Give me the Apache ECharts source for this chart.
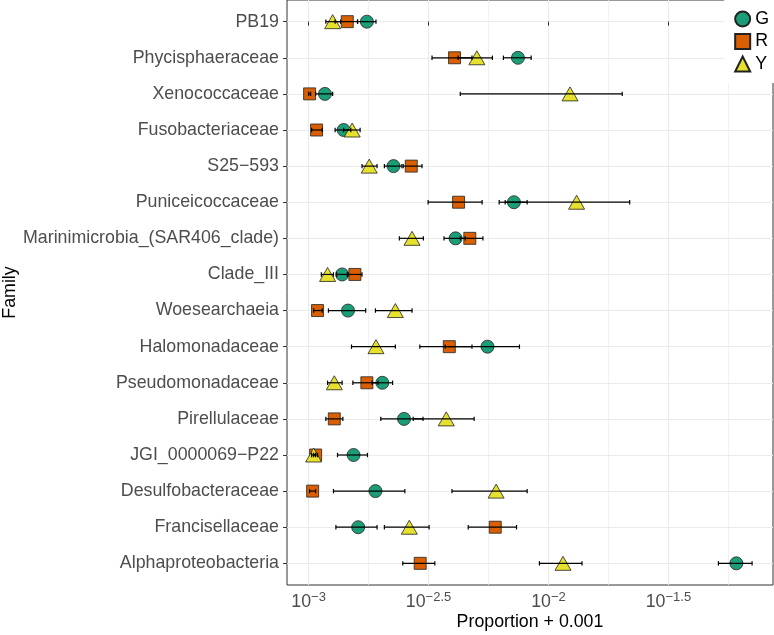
<!DOCTYPE html>
<html>
<head>
<meta charset="utf-8">
<script src="https://cdn.jsdelivr.net/npm/echarts@6/dist/echarts.min.js"></script>
<style>
  html, body { margin: 0; padding: 0; background: #fff; }
  #chart { width: 774px; height: 635px; }
</style>
</head>
<body>
<div id="chart"></div>
<script>
// 科目（从上到下）
var families = ['PB19', 'Phycisphaeraceae', 'Xenococcaceae', 'Fusobacteriaceae', 'S25\u2212593',
  'Puniceicoccaceae', 'Marinimicrobia_(SAR406_clade)', 'Clade_III', 'Woesearchaeia', 'Halomonadaceae',
  'Pseudomonadaceae', 'Pirellulaceae', 'JGI_0000069\u2212P22', 'Desulfobacteraceae', 'Francisellaceae',
  'Alphaproteobacteria'];

// 均值 (Proportion + 0.001)
var gMean = [0.00175, 0.00746, 0.00117, 0.00140, 0.00226, 0.00718, 0.00410, 0.00138, 0.00146, 0.00557,
  0.00203, 0.00250, 0.00154, 0.00190, 0.00161, 0.0607];
var rMean = [0.00145, 0.00406, 0.00101, 0.00108, 0.00268, 0.00422, 0.00470, 0.00156, 0.00109, 0.00386,
  0.00175, 0.00128, 0.00107, 0.00104, 0.00600, 0.00292];
var yMean = [0.00126, 0.00503, 0.0123, 0.00152, 0.00179, 0.0131, 0.00270, 0.00120, 0.00230, 0.00191,
  0.00128, 0.00375, 0.00105, 0.00605, 0.00263, 0.0115];

// 误差线 下限 / 上限
var gLow = [0.00160, 0.00649, 0.00107, 0.00129, 0.00207, 0.00623, 0.00367, 0.00131, 0.00121, 0.00371,
  0.00184, 0.00200, 0.00132, 0.00127, 0.00130, 0.0511];
var gHigh = [0.00191, 0.00847, 0.00126, 0.00150, 0.00245, 0.00815, 0.00450, 0.00145, 0.00173, 0.00757,
  0.00224, 0.00300, 0.00176, 0.00252, 0.00193, 0.0706];
var rLow = [0.00129, 0.00327, 0.00100, 0.00103, 0.00248, 0.00315, 0.00429, 0.00146, 0.00105, 0.00291,
  0.00153, 0.00118, 0.00105, 0.00101, 0.00463, 0.00247];
var rHigh = [0.00160, 0.00480, 0.00102, 0.00114, 0.00297, 0.00529, 0.00533, 0.00167, 0.00114, 0.00480,
  0.00195, 0.00139, 0.00109, 0.00107, 0.00736, 0.00336];
var yLow = [0.00118, 0.00420, 0.00429, 0.00140, 0.00167, 0.00660, 0.00239, 0.00113, 0.00190, 0.00151,
  0.00120, 0.00273, 0.00103, 0.00396, 0.00207, 0.00917];
var yHigh = [0.00136, 0.00584, 0.0203, 0.00164, 0.00193, 0.0218, 0.00301, 0.00127, 0.00270, 0.00230,
  0.00138, 0.00490, 0.00107, 0.00815, 0.00318, 0.0138];

// 刻度
var majorTicks = [0.001, 0.0031623, 0.01, 0.031623];
var minorTicks = [0.0017783, 0.0056234, 0.017783, 0.056234];
var rowIdx = families.map(function (f, i) { return i; });

var FONT = 'Liberation Sans, Arial, Helvetica, sans-serif';
var FS = 17.8;
var X_MIN = 0.000813, X_MAX = 0.0863;
var chart = echarts.init(document.getElementById('chart'));

function points(mean) {
  return mean.map(function (v, i) { return [v, i]; });
}
function bars(lo, hi) {
  return lo.map(function (v, i) { return [v, hi[i], i]; });
}
// 误差线
function renderErr(params, api) {
  var a = api.coord([api.value(0), api.value(2)]);
  var b = api.coord([api.value(1), api.value(2)]);
  var st = { stroke: '#000', lineWidth: 1.2 };
  var c = 2.2;
  return {
    type: 'group',
    children: [
      { type: 'line', shape: { x1: a[0], y1: a[1], x2: b[0], y2: b[1] }, style: st },
      { type: 'line', shape: { x1: a[0], y1: a[1] - c, x2: a[0], y2: a[1] + c }, style: st },
      { type: 'line', shape: { x1: b[0], y1: b[1] - c, x2: b[0], y2: b[1] + c }, style: st }
    ]
  };
}
function errSeries(name, lo, hi) {
  return {
    name: name, type: 'custom', renderItem: renderErr, z: 5, silent: true,
    encode: { x: [0, 1], y: 2 }, data: bars(lo, hi)
  };
}
function ptSeries(name, mean, symbol, size, color) {
  return {
    name: name, type: 'scatter', data: points(mean), symbol: symbol, symbolSize: size, z: 3,
    itemStyle: { color: color, borderColor: '#222', borderWidth: 0.8, opacity: 1 }
  };
}
// 只画网格线的隐藏轴
function gridAxis(ticks, width) {
  return {
    type: 'log', logBase: 10, min: X_MIN, max: X_MAX, position: 'bottom',
    axisLine: { show: false }, axisLabel: { show: false },
    axisTick: { show: false, customValues: ticks },
    splitLine: { show: true, lineStyle: { color: '#ebebeb', width: width } }
  };
}

var option = {
  animation: false,
  textStyle: { fontFamily: FONT },
  grid: {
    left: 287, right: 1, top: 0, bottom: 50, outerBoundsMode: 'none', containLabel: false,
    show: true, borderColor: '#333', borderWidth: 1, backgroundColor: '#fff'
  },
  legend: {
    data: ['G', 'R', 'Y'], orient: 'vertical', right: 0, top: 0,
    backgroundColor: '#fff', padding: [10, 5, 10, 10], itemGap: 4.5,
    itemWidth: 15, itemHeight: 15,
    textStyle: { fontSize: FS, color: '#000', fontFamily: FONT }
  },
  xAxis: [{
    type: 'log', logBase: 10, min: X_MIN, max: X_MAX,
    name: 'Proportion + 0.001', nameLocation: 'middle', nameGap: 28, nameMoveOverlap: false,
    nameTextStyle: { fontSize: FS, color: '#000' },
    axisLine: { show: false },
    axisTick: { customValues: majorTicks, length: 4, lineStyle: { color: '#333' } },
    axisLabel: {
      customValues: majorTicks, margin: 6, color: '#4d4d4d',
      formatter: function (v) {
        var e = Math.round(Math.log10(v) * 2) / 2;
        return '{b|10}{s|' + String(e).replace('-', '\u2212') + '}';
      },
      rich: {
        b: { fontSize: FS, color: '#4d4d4d', fontFamily: FONT, verticalAlign: 'bottom', lineHeight: 20 },
        s: { fontSize: 13, color: '#4d4d4d', fontFamily: FONT, verticalAlign: 'top', lineHeight: 20, padding: [0, 0, 8, 0] }
      }
    },
    splitLine: { show: false }
  }, gridAxis(majorTicks, 1.1), gridAxis(minorTicks, 0.7)],
  yAxis: {
    type: 'value', inverse: true, min: -0.6, max: 15.6,
    name: 'Family', nameLocation: 'middle', nameGap: 268, nameMoveOverlap: false,
    nameTextStyle: { fontSize: FS, color: '#000' },
    axisLine: { show: false },
    axisTick: { customValues: rowIdx, length: 4, lineStyle: { color: '#333' } },
    axisLabel: {
      customValues: rowIdx, margin: 8, fontSize: FS, color: '#4d4d4d',
      formatter: function (v) { return families[Math.round(v)]; }
    },
    splitLine: { show: true, lineStyle: { color: '#ebebeb', width: 1.1 } }
  },
  series: [
    ptSeries('G', gMean, 'circle', 13, '#1b9e77'),
    ptSeries('R', rMean, 'rect', 12, '#d95f02'),
    ptSeries('Y', yMean, 'triangle', [16, 14], '#e6e12e'),
    errSeries('Gerr', gLow, gHigh),
    errSeries('Rerr', rLow, rHigh),
    errSeries('Yerr', yLow, yHigh)
  ]
};
chart.setOption(option);
</script>
</body>
</html>
